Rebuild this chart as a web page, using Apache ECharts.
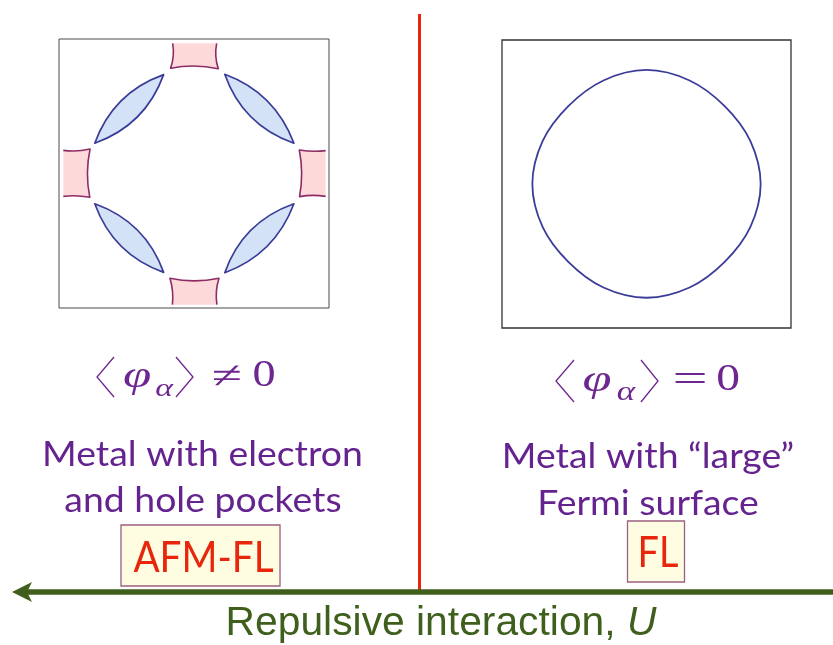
<!DOCTYPE html>
<html><head><meta charset="utf-8">
<script src="https://cdn.jsdelivr.net/npm/echarts@6/dist/echarts.min.js"></script>
<style>html,body{margin:0;padding:0;background:#fff}#c{width:833px;height:645px}</style>
</head><body><div id="c"></div>
<script>
// k-space coordinates, Brillouin zone = [-1,1] x [-1,1]
// Electron pockets (lens shaped): tipA, outer control, tipB, inner control
const electronPockets = [
  [-0.225, 0.735, -0.60, 0.60, -0.735, 0.225, -0.36, 0.36],
  [ 0.228, 0.738,  0.60, 0.60,  0.740, 0.225,  0.36, 0.36],
  [-0.225,-0.735, -0.60,-0.60, -0.735,-0.225, -0.36,-0.36],
  [ 0.228,-0.738,  0.60,-0.60,  0.740,-0.225,  0.36,-0.36]
];
// Hole pockets (cut by zone edge): open end, ctrl, corner, ctrl, corner, ctrl, open end
const holePockets = [
  [-0.158, 0.968, -0.142, 0.875, -0.173, 0.782, 0.0, 0.818, 0.180, 0.779, 0.149, 0.875, 0.168, 0.968],
  [-0.160,-0.975, -0.149,-0.877, -0.178,-0.779, 0.0,-0.818, 0.185,-0.779, 0.154,-0.877, 0.170,-0.975],
  [-0.968, 0.172, -0.870, 0.158, -0.770, 0.182, -0.808, 0.0, -0.772,-0.177, -0.870,-0.158, -0.968,-0.170],
  [ 0.975, 0.170,  0.877, 0.158,  0.780, 0.175,  0.814, 0.0,  0.782,-0.172,  0.877,-0.155,  0.975,-0.170]
];
// Large Fermi surface (paramagnetic metal), points read around the contour
const largeFS = [
  [0.79,0.0],[0.719,0.298],[0.541,0.541],[0.298,0.719],[0.0,0.792],[-0.298,0.719],[-0.541,0.541],[-0.719,0.298],
  [-0.79,0.0],[-0.719,-0.298],[-0.541,-0.541],[-0.298,-0.719],[0.0,-0.79],[0.298,-0.719],[0.541,-0.541],[0.719,-0.298]
];
const labels = {
  leftLine1: 'Metal with electron', leftLine2: 'and hole pockets',
  rightLine1: 'Metal with \u201clarge\u201d', rightLine2: 'Fermi surface',
  leftPhase: 'AFM-FL', rightPhase: 'FL', axisLabel: 'Repulsive interaction, ', axisVar: 'U'
};

const PURPLE = '#65238f', MATH = '#6e2690', RED = '#e8260c', GREEN = '#3f5f1d';
const chart = echarts.init(document.getElementById('c'), null, {renderer: 'canvas'});

function pt(api, i) { return api.coord([api.value(2 * i), api.value(2 * i + 1)]); }
function P(p) { return p[0].toFixed(2) + ' ' + p[1].toFixed(2); }

const sansText = 'Lato, "Open Sans", sans-serif';
function txt(text, x, y, size, fill, sx) {
  return {type: 'text', x: x, y: y, scaleX: sx || 1, style: {text: text, x: 0, y: 0, fill: fill,
    font: size + 'px ' + sansText, textAlign: 'center', textVerticalAlign: 'middle'}};
}
function mtxt(text, x, y, size, italic, sx) {
  return {type: 'text', x: x, y: y, scaleX: sx || 1, style: {text: text, x: 0, y: 0, fill: MATH,
    font: (italic ? 'italic ' : '') + size + 'px "Liberation Serif", "DejaVu Serif", serif',
    textAlign: 'center', textVerticalAlign: 'middle'}};
}
function bracket(pts) {
  return {type: 'polyline', shape: {points: pts}, style: {stroke: MATH, lineWidth: 1.3, fill: null}};
}

const option = {
  animation: false,
  backgroundColor: '#fff',
  grid: [
    {left: 59, top: 39, width: 270, height: 269, show: true, borderColor: '#4a4a4a', borderWidth: 1, backgroundColor: '#fff'},
    {left: 502, top: 40, width: 289, height: 288, show: true, borderColor: '#333', borderWidth: 1.3, backgroundColor: '#fff'}
  ],
  xAxis: [
    {gridIndex: 0, type: 'value', min: -1, max: 1, show: false},
    {gridIndex: 1, type: 'value', min: -1, max: 1, show: false}
  ],
  yAxis: [
    {gridIndex: 0, type: 'value', min: -1, max: 1, show: false},
    {gridIndex: 1, type: 'value', min: -1, max: 1, show: false}
  ],
  series: [
    {
      type: 'custom', xAxisIndex: 0, yAxisIndex: 0, clip: false,
      data: holePockets,
      encode: {x: [0, 2, 4, 6, 8, 10, 12], y: [1, 3, 5, 7, 9, 11, 13]},
      renderItem: function (params, api) {
        const p = []; for (let i = 0; i < 7; i++) p.push(pt(api, i));
        const d = 'M' + P(p[0]) + ' Q' + P(p[1]) + ' ' + P(p[2]) + ' Q' + P(p[3]) + ' ' + P(p[4]) +
          ' Q' + P(p[5]) + ' ' + P(p[6]);
        return {type: 'path', shape: {pathData: d},
          style: {fill: '#fed9da', stroke: '#8e2c66', lineWidth: 1.6, lineJoin: 'round'}};
      }
    },
    {
      type: 'custom', xAxisIndex: 0, yAxisIndex: 0, clip: false,
      data: electronPockets,
      encode: {x: [0, 2, 4, 6], y: [1, 3, 5, 7]},
      renderItem: function (params, api) {
        const p = []; for (let i = 0; i < 4; i++) p.push(pt(api, i));
        const d = 'M' + P(p[0]) + ' Q' + P(p[1]) + ' ' + P(p[2]) + ' Q' + P(p[3]) + ' ' + P(p[0]) + ' Z';
        return {type: 'path', shape: {pathData: d},
          style: {fill: '#d4e2f8', stroke: '#3a3c98', lineWidth: 1.7, lineJoin: 'round'}};
      }
    },
    {
      type: 'custom', xAxisIndex: 1, yAxisIndex: 1, clip: false,
      data: [largeFS.flat()],
      encode: {x: largeFS.map((_, i) => 2 * i), y: largeFS.map((_, i) => 2 * i + 1)},
      renderItem: function (params, api) {
        const n = largeFS.length, p = [];
        for (let i = 0; i < n; i++) p.push(pt(api, i));
        // closed Catmull-Rom spline through the read points
        let d = 'M' + P(p[0]);
        for (let i = 0; i < n; i++) {
          const p0 = p[(i - 1 + n) % n], p1 = p[i], p2 = p[(i + 1) % n], p3 = p[(i + 2) % n];
          const c1 = [p1[0] + (p2[0] - p0[0]) / 6, p1[1] + (p2[1] - p0[1]) / 6];
          const c2 = [p2[0] - (p3[0] - p1[0]) / 6, p2[1] - (p3[1] - p1[1]) / 6];
          d += ' C' + P(c1) + ' ' + P(c2) + ' ' + P(p2);
        }
        d += ' Z';
        return {type: 'path', shape: {pathData: d},
          style: {fill: null, stroke: '#3b3c99', lineWidth: 1.8}};
      }
    }
  ],
  graphic: [
    // phase boundary
    {type: 'line', shape: {x1: 419.5, y1: 14, x2: 419.5, y2: 592}, style: {stroke: RED, lineWidth: 3}},
    // interaction axis arrow
    {type: 'line', shape: {x1: 833, y1: 592, x2: 27, y2: 592}, style: {stroke: GREEN, lineWidth: 5.5}},
    {type: 'polygon', shape: {points: [[12, 592], [32, 582], [27, 592], [32, 602]]}, style: {fill: GREEN}},
    // left math
    bracket([[114, 357], [97, 377], [114, 397]]),
    mtxt('\u03c6', 137, 377, 37, true, 1.38),
    mtxt('\u03b1', 164, 389, 26, true, 1.3),
    bracket([[176, 357], [193, 377], [176, 397]]),
    mtxt('\u2260', 227, 378, 38, false, 1.45),
    mtxt('0', 264, 376, 37, false, 1.25),
    // right math
    bracket([[574, 360], [556, 381], [574, 402]]),
    mtxt('\u03c6', 597, 381, 38, true, 1.38),
    mtxt('\u03b1', 626, 393, 27, true, 1.3),
    bracket([[641, 360], [658, 381], [641, 402]]),
    mtxt('=', 690, 382, 39, false, 1.6),
    mtxt('0', 728, 380, 38, false, 1.25),
    // descriptions
    txt(labels.leftLine1, 202.5, 455, 34, PURPLE, 1.1),
    txt(labels.leftLine2, 203, 501, 34, PURPLE, 1.1),
    txt(labels.rightLine1, 648, 457, 34, PURPLE, 1.1),
    txt(labels.rightLine2, 648, 504, 34, PURPLE, 1.1),
    // phase labels
    {type: 'rect', shape: {x: 121, y: 525, width: 159, height: 61}, style: {fill: '#fefde1', stroke: '#9c5f80', lineWidth: 1.3}},
    txt(labels.leftPhase, 203.5, 558, 43, RED, 0.9),
    {type: 'rect', shape: {x: 627.5, y: 521, width: 57, height: 61}, style: {fill: '#fefde1', stroke: '#9c5f80', lineWidth: 1.3}},
    txt(labels.rightPhase, 658, 553, 43, RED, 0.88),
    // axis label
    {type: 'text', x: 441, y: 624, scaleX: 1.02, style: {
      text: '{n|' + labels.axisLabel + '}{i|' + labels.axisVar + '}', x: 0, y: 0,
      textAlign: 'center', textVerticalAlign: 'middle',
      rich: {
        n: {fill: GREEN, fontSize: 40, fontFamily: '"Liberation Sans", Arial, sans-serif'},
        i: {fill: GREEN, fontSize: 40, fontStyle: 'italic', fontFamily: '"Liberation Sans", Arial, sans-serif'}
      }
    }}
  ]
};
chart.setOption(option);
</script></body></html>
